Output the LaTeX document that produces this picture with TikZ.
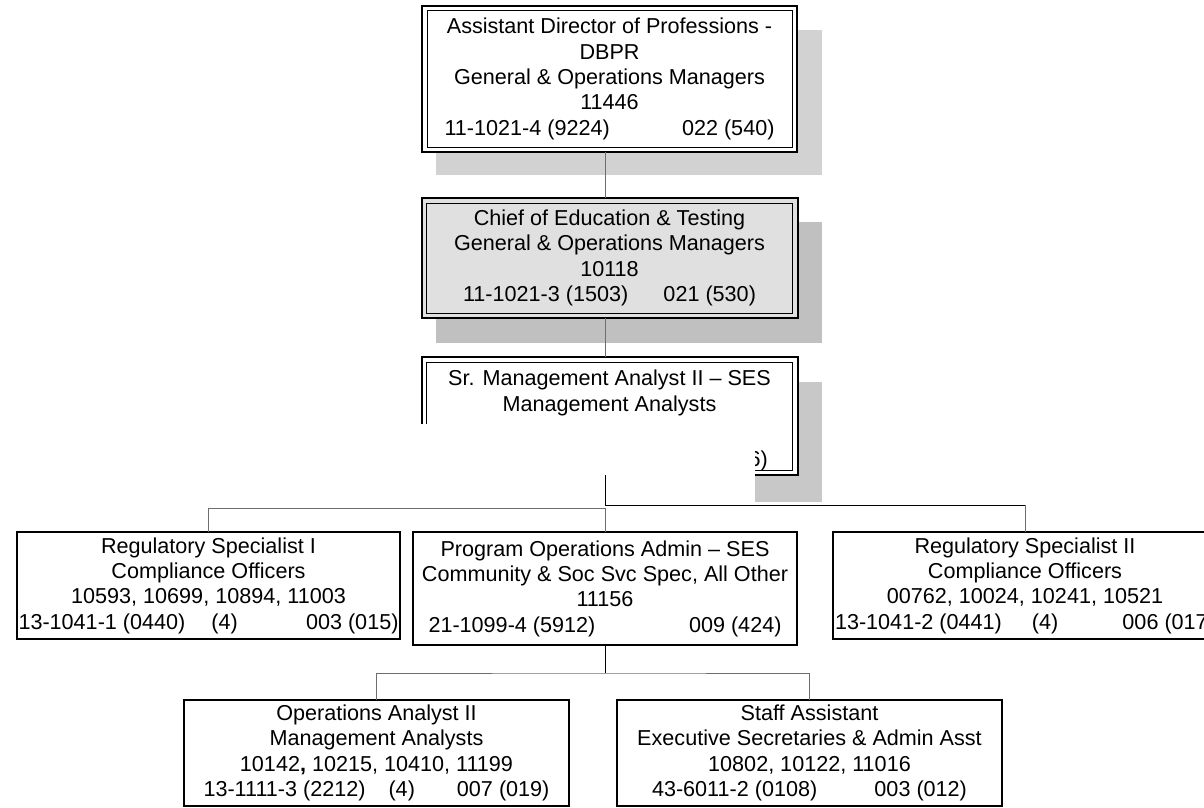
\documentclass[tikz,border=0pt]{standalone}
\usepackage{fontspec}
\setmainfont{Liberation Sans}
\definecolor{shadeA}{RGB}{210,210,210}
\definecolor{shadeB}{RGB}{192,192,192}
\definecolor{shadeC}{RGB}{200,200,200}
\definecolor{boxgray}{RGB}{224,224,224}
\definecolor{linkgray}{RGB}{110,110,110}
\begin{document}
\begin{tikzpicture}[x=1pt,y=1pt,
  box/.style={draw=black, line width=2pt, fill=white, inner sep=0pt, outer sep=0pt,
    align=center, font=\fontsize{21.6}{25.3}\selectfont},
  inner/.style={draw=black, line width=1pt},
  shadow/.style={fill=#1},
  conn/.style={draw=linkgray, line width=1pt},
  darkconn/.style={draw=black, line width=1pt}]
\useasboundingbox (0,0) rectangle (1204,-808);

% drop shadows of the upper boxes
\fill[shadow=shadeA] (436,-30) rectangle (822,-175);
\fill[shadow=shadeB] (436,-222) rectangle (822,-343);
\fill[shadow=shadeC] (436,-382) rectangle (822,-502);

% upper chain, double bordered
\node[box, minimum width=375pt, minimum height=146pt] (A) at (609.5,-79)
  {Assistant Director of Professions -\\DBPR\\General \& Operations Managers\\11446\\
   \makebox[330pt]{11-1021-4 (9224)\hfill 022 (540)}};
\draw[inner] ([shift={(5,-5)}]A.north west) rectangle ([shift={(-5,5)}]A.south east);

\node[box, fill=boxgray, minimum width=376pt, minimum height=120pt] (B) at (609.5,-258)
  {Chief of Education \& Testing\\General \& Operations Managers\\10118\\
   \makebox[293pt]{11-1021-3 (1503)\hfill 021 (530)}};
\draw[inner] ([shift={(5,-5)}]B.north west) rectangle ([shift={(-5,5)}]B.south east);

\node[box, minimum width=376pt, minimum height=118pt] (C) at (609.5,-416)
  {Sr. Management Analyst II – SES\\Management Analysts\\\phantom{0}\\\phantom{0}};
\draw[inner] ([shift={(5,-5)}]C.north west) rectangle ([shift={(-5,5)}]C.south east);
\node[font=\fontsize{21.6}{25.3}\selectfont, inner sep=0pt, anchor=base east] (Ctail) at (768,-466) {6)};

% blank patch over the lower part of the third box
\fill[white] (400,-424) rectangle (755,-503);

% second level
\node[box, minimum width=383pt, minimum height=107pt] (D) at (208.5,-585.5)
  {Regulatory Specialist I\\Compliance Officers\\10593, 10699, 10894, 11003\\
   \makebox[380pt]{13-1041-1 (0440)\hspace{26pt}(4)\hfill 003 (015)}};
\node[box, minimum width=384pt, minimum height=113pt] (E) at (605,-588.5)
  {Program Operations Admin – SES\\Community \& Soc Svc Spec, All Other\\11156\\
   \makebox[353pt]{21-1099-4 (5912)\hfill 009 (424)}};
\node[box, minimum width=384pt, minimum height=107pt] (F) at (1025,-585.5)
  {Regulatory Specialist II\\Compliance Officers\\00762, 10024, 10241, 10521\\
   \makebox[380pt]{13-1041-2 (0441)\hspace{30pt}(4)\hfill 006 (017)}};

% third level
\node[box, minimum width=385pt, minimum height=106pt] (G) at (376.5,-753)
  {Operations Analyst II\\Management Analysts\\10142\textbf{,} 10215, 10410, 11199\\
   \makebox[346pt]{13-1111-3 (2212)\hspace{23pt}(4)\hfill 007 (019)}};
\node[box, minimum width=385pt, minimum height=106pt] (H) at (809.5,-753)
  {Staff Assistant\\Executive Secretaries \& Admin Asst\\10802, 10122, 11016\\
   \makebox[315pt]{43-6011-2 (0108)\hfill 003 (012)}};

% reporting lines
\draw[conn] (A.south -| E.north) -- (B.north -| E.north);
\draw[conn] (B.south -| E.north) -- (C.north -| E.north);
\draw[conn] (E.north) -- ++(0,24) -| (D.north);
\draw[conn] (F.north) -- ++(0,27) coordinate (fk);
\draw[darkconn] (C.south -| E.north) |- (fk);
\draw[darkconn] (E.south) -- ++(0,-28) coordinate (ek);
\draw[conn] (G.north) |- (ek) -| (H.north);
\end{tikzpicture}
\end{document}
